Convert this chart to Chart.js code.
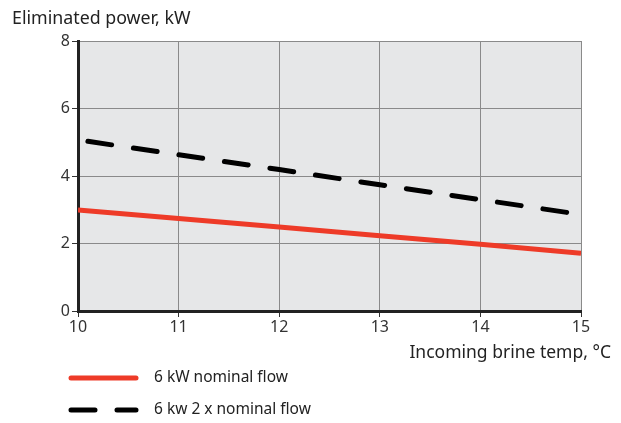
<!DOCTYPE html>
<html lang="en">
  <head>
    <meta charset="UTF-8" />
    <title>Eliminated power vs incoming brine temp</title>
    <style>
      body { margin: 0; background: #fff; }
      #wrap { width: 621px; height: 423px; }
    </style>
  </head>
  <body>
    <div id="wrap"><canvas id="chart-1" width="621" height="423"></canvas></div>

    <script src="https://cdn.jsdelivr.net/npm/chart.js"></script>
    <script>
      // data
      const temps = [10, 11, 12, 13, 14, 15];
      const nominalFlow = [2.99, 2.74, 2.49, 2.23, 1.98, 1.71];
      const doubleFlow = [5.07, 4.63, 4.19, 3.74, 3.3, 2.86];
      const yTicks = [0, 2, 4, 6, 8];

      const yTitle = "Eliminated power, kW";
      const xTitle = "Incoming brine temp, °C";
      const labelNominal = "6 kW nominal flow";
      const labelDouble = "6 kw 2 x nominal flow";

      const FONT = '"Noto Sans", sans-serif';
      const RED = "#ee3b28";

      // grey plot background + titles + legend
      const extras = {
        id: "extras",
        beforeDraw(chart) {
          const { ctx, chartArea: a } = chart;
          ctx.save();
          ctx.fillStyle = "#e6e7e8";
          ctx.fillRect(a.left, a.top, a.right - a.left, a.bottom - a.top);
          ctx.restore();
        },
        afterDraw(chart) {
          const ctx = chart.ctx;
          ctx.save();
          ctx.fillStyle = "#222";
          ctx.font = "17.8px " + FONT;
          ctx.textBaseline = "alphabetic";
          ctx.textAlign = "left";
          ctx.fillText(yTitle, 12, 24);
          ctx.font = "17.5px " + FONT;
          ctx.textAlign = "right";
          ctx.fillText(xTitle, 611, 358);

          // legend
          ctx.lineCap = "round";
          chart.data.datasets.forEach((ds, i) => {
            const y = 378 + i * 32;
            ctx.strokeStyle = ds.borderColor;
            ctx.lineWidth = 5;
            ctx.setLineDash(ds.borderDash || []);
            ctx.beginPath();
            ctx.moveTo(71, y);
            ctx.lineTo(136, y);
            ctx.stroke();
            ctx.setLineDash([]);
            ctx.fillStyle = "#222";
            ctx.font = "15.5px " + FONT;
            ctx.textAlign = "left";
            ctx.textBaseline = "middle";
            ctx.fillText(ds.label, 154, y);
          });
          ctx.restore();
        },
      };

      new Chart(document.getElementById("chart-1"), {
        type: "line",
        data: {
          labels: temps,
          datasets: [
            {
              label: labelNominal,
              data: nominalFlow,
              borderColor: RED,
              borderWidth: 5,
              pointRadius: 0,
              tension: 0,
            },
            {
              label: labelDouble,
              data: doubleFlow,
              borderColor: "#000",
              borderWidth: 5,
              borderDash: [24, 22],
              borderDashOffset: 36,
              borderCapStyle: "round",
              pointRadius: 0,
              tension: 0,
            },
          ],
        },
        options: {
          responsive: false,
          animation: false,
          layout: { padding: { top: 41, right: 40, left: 0, bottom: 0 } },
          plugins: { legend: { display: false }, tooltip: { enabled: false } },
          scales: {
            x: {
              type: "linear",
              min: 10,
              max: 15,
              afterFit: (s) => { s.height = 112; },
              ticks: { stepSize: 1, color: "#333", font: { family: FONT, size: 16 }, padding: 1 },
              grid: { color: "#8a8a8a", lineWidth: 1, tickLength: 6, tickColor: "#333" },
              border: { color: "#222", width: 3 },
            },
            y: {
              min: 0,
              max: 8,
              afterFit: (s) => { s.width = 78; },
              afterBuildTicks: (s) => { s.ticks = yTicks.map((v) => ({ value: v })); },
              ticks: { color: "#333", font: { family: FONT, size: 16 }, padding: 2 },
              grid: { color: "#8a8a8a", lineWidth: 1, tickLength: 6, tickColor: "#333" },
              border: { color: "#222", width: 3 },
            },
          },
        },
        plugins: [extras],
      });
    </script>
  </body>
</html>
